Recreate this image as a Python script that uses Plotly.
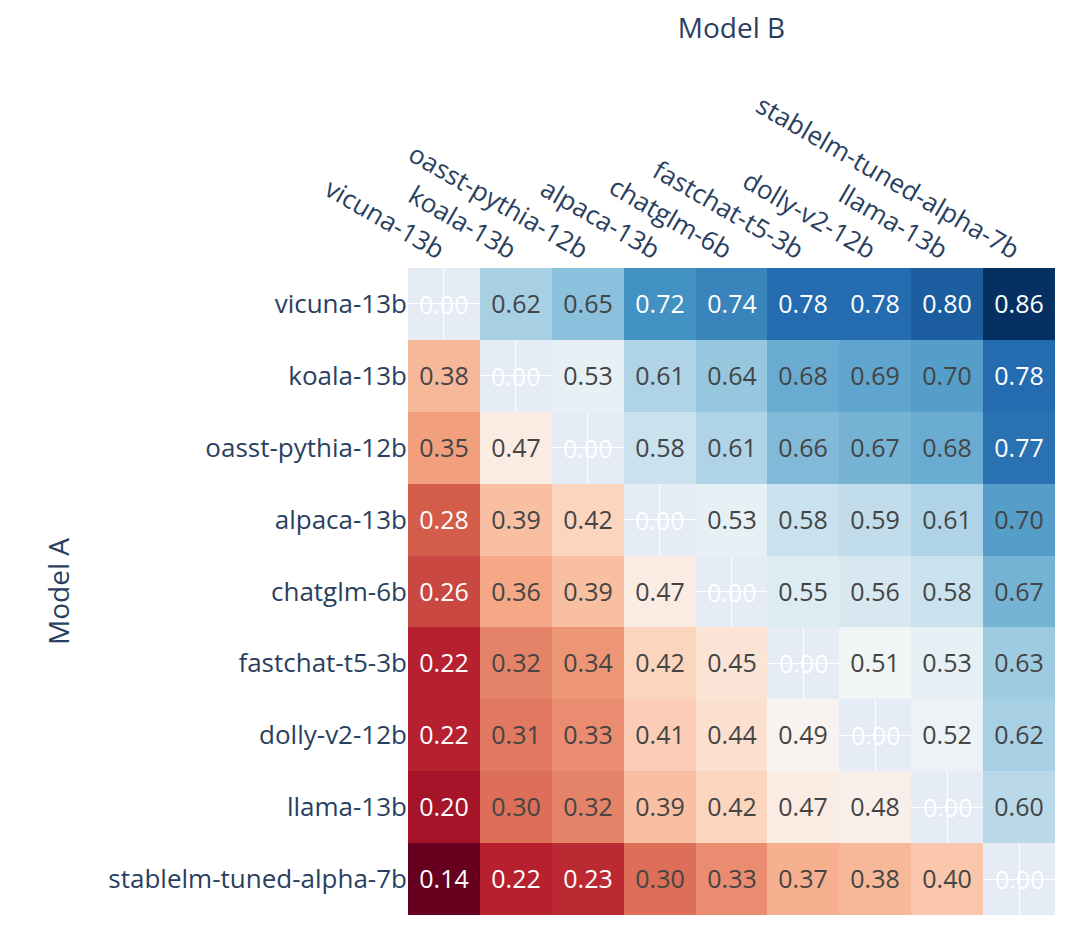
import numpy as np
import plotly.graph_objects as go

models = ["vicuna-13b", "koala-13b", "oasst-pythia-12b", "alpaca-13b", "chatglm-6b",
          "fastchat-t5-3b", "dolly-v2-12b", "llama-13b", "stablelm-tuned-alpha-7b"]

nan = np.nan
win_rate = [
    [nan, 0.62, 0.65, 0.72, 0.74, 0.78, 0.78, 0.80, 0.86],
    [0.38, nan, 0.53, 0.61, 0.64, 0.68, 0.69, 0.70, 0.78],
    [0.35, 0.47, nan, 0.58, 0.61, 0.66, 0.67, 0.68, 0.77],
    [0.28, 0.39, 0.42, nan, 0.53, 0.58, 0.59, 0.61, 0.70],
    [0.26, 0.36, 0.39, 0.47, nan, 0.55, 0.56, 0.58, 0.67],
    [0.22, 0.32, 0.34, 0.42, 0.45, nan, 0.51, 0.53, 0.63],
    [0.22, 0.31, 0.33, 0.41, 0.44, 0.49, nan, 0.52, 0.62],
    [0.20, 0.30, 0.32, 0.39, 0.42, 0.47, 0.48, nan, 0.60],
    [0.14, 0.22, 0.23, 0.30, 0.33, 0.37, 0.38, 0.40, nan],
]

z = np.array(win_rate)
text = [["" if np.isnan(v) else f"{v:.2f}" for v in row] for row in z]

fig = go.Figure(go.Heatmap(
    z=z, x=models, y=models, text=text, texttemplate="%{text}",
    textfont=dict(size=25, family="Open Sans"),
    colorscale="RdBu", zmid=0.5, showscale=False,
))

# diagonal labels drawn in white like the source
for m in models:
    fig.add_annotation(x=m, y=m, text="0.00", showarrow=False,
                       font=dict(size=25, family="Open Sans", color="white"))

fig.update_layout(
    width=1080, height=936,
    margin=dict(l=400, r=33, t=260, b=29),
    font=dict(family="Open Sans", size=26, color="#2a3f5f"),
)
fig.update_xaxes(side="top", tickangle=30, automargin=False,
                 title=dict(text="Model B", font=dict(size=28), standoff=45))
fig.update_yaxes(autorange="reversed", automargin=False,
                 title=dict(text="Model A", font=dict(size=28), standoff=30))

fig.write_html("out.html")
